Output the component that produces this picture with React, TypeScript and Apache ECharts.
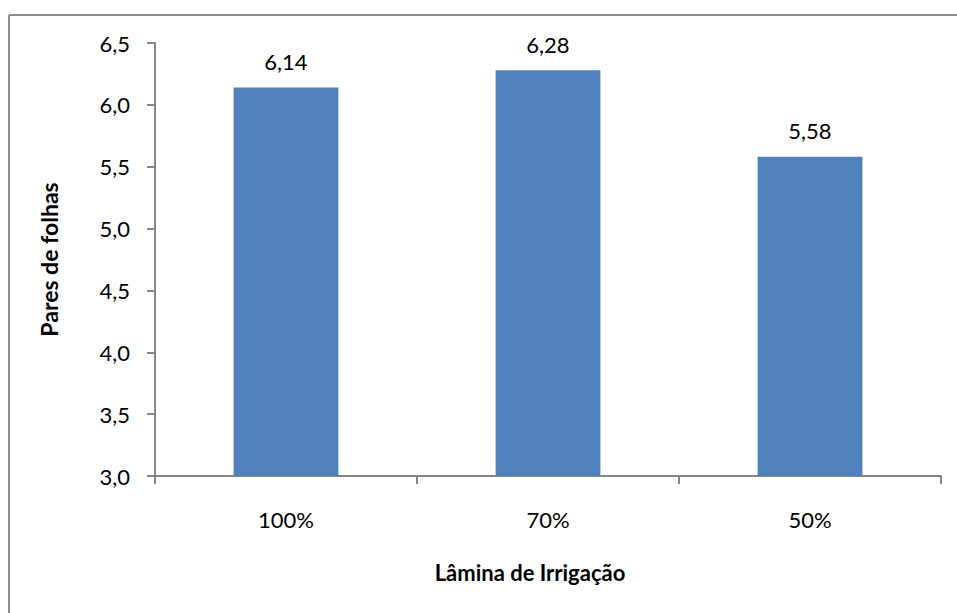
import React, { useEffect, useRef } from "react";
import * as echarts from "echarts";

const categories = ["100%", "70%", "50%"];
const values = [6.14, 6.28, 5.58];
const yTicks = { min: 3.0, max: 6.5, interval: 0.5 };
const xTitle = "Lâmina de Irrigação";
const yTitle = "Pares de folhas";

const FONT = "Lato, 'Open Sans', sans-serif";
const AXIS_COLOR = "#868686";

export default function App() {
  const ref = useRef<HTMLDivElement>(null);
  useEffect(() => {
    if (!ref.current) return;
    const chart = echarts.init(ref.current, undefined, { renderer: "svg" });
    chart.setOption({
      animation: false,
      backgroundColor: "#ffffff",
      textStyle: { fontFamily: FONT },
      grid: { left: 155, right: 16, top: 43, bottom: 137, containLabel: false },
      graphic: [
        { type: "line", shape: { x1: 9, y1: 15, x2: 957, y2: 15 }, style: { stroke: "#8c8c8c", lineWidth: 2 } },
        { type: "line", shape: { x1: 9, y1: 15, x2: 9, y2: 613 }, style: { stroke: "#8c8c8c", lineWidth: 2 } },
        {
          type: "text",
          x: 530,
          y: 572,
          style: {
            text: xTitle,
            fontFamily: FONT,
            fontSize: 22,
            fontWeight: "bold",
            fill: "#000",
            align: "center",
            verticalAlign: "middle",
          },
        },
      ],
      xAxis: {
        type: "category",
        data: categories,
        axisLine: { lineStyle: { color: AXIS_COLOR, width: 2 } },
        axisTick: { show: true, length: 8, alignWithLabel: false, lineStyle: { color: AXIS_COLOR, width: 2 } },
        axisLabel: { color: "#000", fontSize: 22, fontFamily: FONT, margin: 32 },
        splitLine: { show: false },
      },
      yAxis: {
        type: "value",
        min: yTicks.min,
        max: yTicks.max,
        interval: yTicks.interval,
        name: yTitle,
        nameLocation: "middle",
        nameGap: 95,
        nameTextStyle: { color: "#000", fontSize: 23, fontWeight: "bold", fontFamily: FONT },
        axisLine: { show: true, lineStyle: { color: AXIS_COLOR, width: 2 } },
        axisTick: { show: true, length: 8, lineStyle: { color: AXIS_COLOR, width: 2 } },
        axisLabel: {
          color: "#000",
          fontSize: 22,
          fontFamily: FONT,
          margin: 25,
          formatter: (v: number) => v.toFixed(1).replace(".", ","),
        },
        splitLine: { show: false },
      },
      series: [
        {
          type: "bar",
          data: values,
          barWidth: "40%",
          itemStyle: { color: "#4F81BD" },
          label: {
            show: true,
            position: "top",
            distance: 15,
            color: "#000",
            fontSize: 22,
            fontFamily: FONT,
            formatter: (p: any) => p.value.toFixed(2).replace(".", ","),
          },
        },
      ],
    });
    return () => chart.dispose();
  }, []);
  return (
    <div
      ref={ref}
      style={{ position: "absolute", left: 0, top: 0, width: 957, height: 613 }}
    />
  );
}
